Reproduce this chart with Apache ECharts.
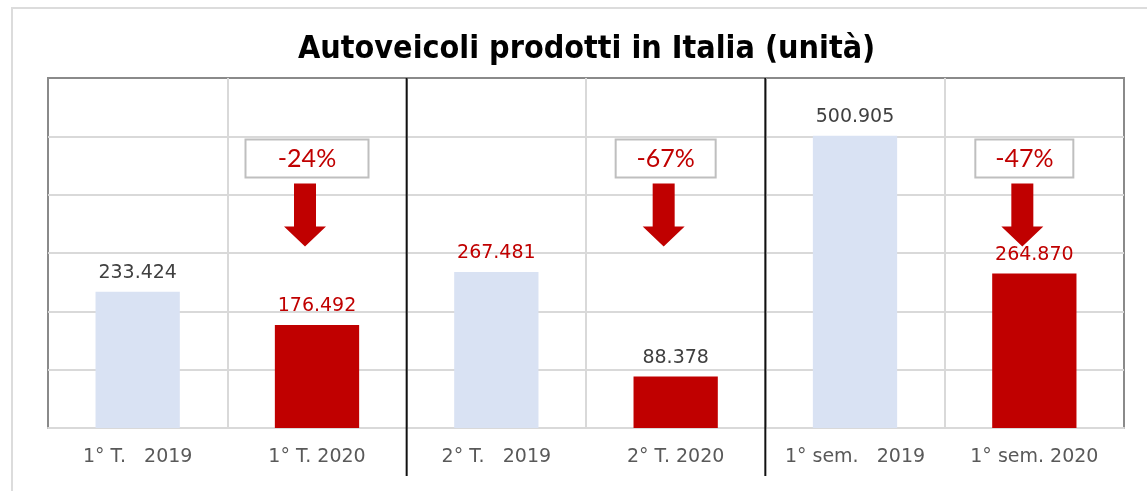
<!DOCTYPE html>
<html>
<head>
<meta charset="utf-8">
<script src="https://cdn.jsdelivr.net/npm/echarts@6/dist/echarts.min.js"></script>
<style>
  html, body { margin: 0; padding: 0; background: #fff; }
  #main { width: 1147px; height: 491px; }
</style>
</head>
<body>
<div id="main"></div>
<script>
// categorie (asse x)
var categories = ['1° T.   2019', '1° T. 2020', '2° T.   2019', '2° T. 2020', '1° sem.   2019', '1° sem. 2020'];
// autoveicoli prodotti (unità)
var values = [233424, 176492, 267481, 88378, 500905, 264870];
// variazioni 2020 su 2019
var changeCats = ['1° T. 2020', '2° T. 2020', '1° sem. 2020'];
var changes = ['-24%', '-67%', '-47%'];

var RED = '#C00000';
var BLUE = '#D9E2F3';
var GREY_TXT = '#404040';
var labelColors = [GREY_TXT, RED, RED, GREY_TXT, GREY_TXT, RED];

function fmt(v) {
    return String(v).replace(/\B(?=(\d{3})+(?!\d))/g, '.');
}

var myChart = echarts.init(document.getElementById('main'));

var barData = values.map(function (v, i) {
    return {
        value: v,
        itemStyle: { color: i % 2 ? RED : BLUE },
        label: { color: labelColors[i] }
    };
});

var boxWidths = [121, 98, 96];
var boxData = changes.map(function (c, i) {
    return {
        value: [changeCats[i], 462000],
        name: c,
        label: { width: boxWidths[i] }
    };
});
var arrowData = changes.map(function (c, i) {
    return { value: [changeCats[i], 365000] };
});

var option = {
    animation: false,
    title: {
        text: 'Autoveicoli prodotti in Italia (unità)',
        left: 293,
        top: 29,
        textStyle: {
            fontFamily: '"Liberation Sans Narrow", "DejaVu Sans Condensed", sans-serif',
            fontWeight: 'bold',
            fontSize: 32,
            color: '#000'
        }
    },
    grid: {
        left: 48,
        right: 23,
        top: 78,
        bottom: 63,
        show: true,
        borderColor: '#8a8a8a',
        borderWidth: 2,
        containLabel: false
    },
    xAxis: {
        type: 'category',
        data: categories,
        axisLine: { lineStyle: { color: '#d9d9d9', width: 2 } },
        axisTick: { show: false },
        axisLabel: {
            interval: 0,
            color: '#595959',
            fontFamily: 'DejaVu Sans',
            fontSize: 19,
            margin: 20
        },
        splitLine: {
            show: true,
            showMinLine: false,
            showMaxLine: false,
            lineStyle: { color: '#d9d9d9', width: 2 }
        }
    },
    yAxis: {
        type: 'value',
        min: 0,
        max: 600000,
        interval: 100000,
        axisLabel: { show: false },
        axisLine: { show: false },
        axisTick: { show: false },
        splitLine: {
            showMaxLine: false,
            lineStyle: { color: '#d9d9d9', width: 2 }
        }
    },
    series: [{
        name: 'Autoveicoli',
        type: 'bar',
        data: barData,
        barWidth: '47%',
        label: {
            show: true,
            position: 'top',
            distance: 9,
            fontFamily: 'DejaVu Sans',
            fontSize: 19,
            formatter: function (p) { return fmt(p.value); }
        },
        z: 3
    }, {
        name: 'variazione',
        type: 'scatter',
        data: boxData,
        symbolSize: 0,
        itemStyle: { opacity: 1 },
        label: {
            show: true,
            position: 'inside',
            offset: [-10, 0],
            color: RED,
            fontFamily: 'Lato',
            fontSize: 25,
            align: 'center',
            verticalAlign: 'middle',
            height: 30,
            lineHeight: 38,
            padding: [6, 0, 0, 0],
            backgroundColor: '#fff',
            borderColor: '#bfbfbf',
            borderWidth: 2,
            formatter: function (p) { return p.name; }
        },
        z: 4
    }, {
        name: 'freccia',
        type: 'scatter',
        data: arrowData,
        symbol: 'path://M10,0 L32,0 L32,43 L42,43 L21,63 L0,43 L10,43 Z',
        symbolSize: [42, 63],
        symbolOffset: [-12, 0],
        itemStyle: { color: RED, opacity: 1 },
        z: 4
    }]
};

myChart.setOption(option);

// separatori neri tra i periodi + cornice esterna
var yTop = myChart.convertToPixel({ yAxisIndex: 0 }, 600000);
var yBot = myChart.convertToPixel({ yAxisIndex: 0 }, 0);
var seps = [2, 4].map(function (i) {
    var x = (myChart.convertToPixel({ xAxisIndex: 0 }, categories[i - 1]) +
             myChart.convertToPixel({ xAxisIndex: 0 }, categories[i])) / 2;
    return {
        type: 'line',
        shape: { x1: x, y1: yTop, x2: x, y2: yBot + 48 },
        style: { stroke: '#111', lineWidth: 2 },
        z: 10
    };
});
seps.push({
    type: 'rect',
    shape: { x: 12, y: 8, width: 1160, height: 520 },
    style: { fill: 'none', stroke: '#dcdcdc', lineWidth: 2 },
    z: 0
});
myChart.setOption({ graphic: seps });
</script>
</body>
</html>
